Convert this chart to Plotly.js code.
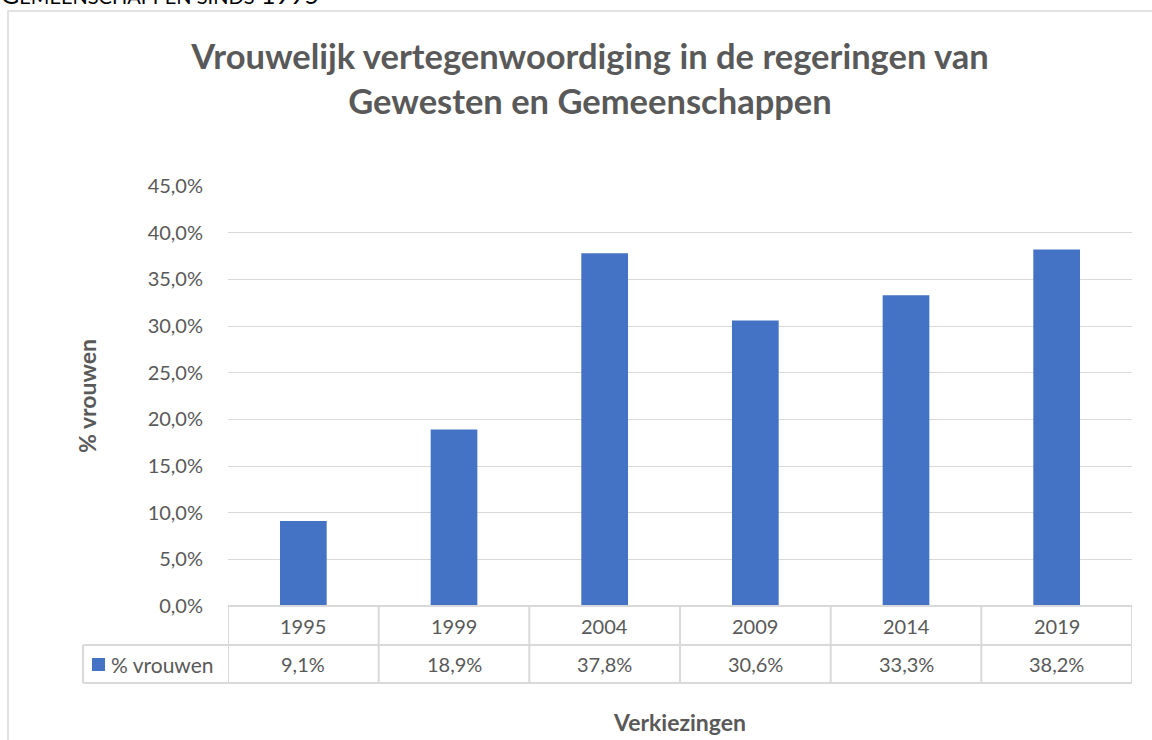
<!DOCTYPE html>
<html>
<head>
<meta charset="utf-8">
<script src="https://cdn.plot.ly/plotly-3.0.1.min.js"></script>
<style>html,body{margin:0;padding:0;background:#fff;}#chart{width:1152px;height:740px;}</style>
</head>
<body>
<div id="chart"></div>
<script>
const years = ["1995", "1999", "2004", "2009", "2014", "2019"];
const vrouwen = [9.1, 18.9, 37.8, 30.6, 33.3, 38.2];
const seriesName = "% vrouwen";
const valueLabels = ["9,1%", "18,9%", "37,8%", "30,6%", "33,3%", "38,2%"];

const W = 1152, H = 740;
const L = 228, R = 20, T = 186, B = 134;
const pw = W - L - R, ph = H - T - B;
const FONT = "Lato, 'Open Sans', sans-serif";
const GRAY = "#595959";
const LINE = "#d9d9d9";
const BLUE = "#4472c4";

const px2x = v => (v - L) / pw;
const py2y = v => (H - B - v) / ph;

const row1 = py2y(645), row2 = py2y(683);
const legL = px2x(83);

const shapes = [];
// chart frame
shapes.push({type: "rect", xref: "paper", yref: "paper", x0: px2x(8), x1: px2x(1190), y0: py2y(780), y1: py2y(11), line: {color: LINE, width: 1.5}, fillcolor: "rgba(0,0,0,0)", layer: "below"});
// table lines
shapes.push({type: "line", xref: "paper", yref: "paper", x0: legL, x1: 1, y0: row1, y1: row1, line: {color: LINE, width: 2}});
shapes.push({type: "line", xref: "paper", yref: "paper", x0: legL, x1: 1, y0: row2, y1: row2, line: {color: LINE, width: 2}});
shapes.push({type: "line", xref: "paper", yref: "paper", x0: 0, x1: 1, y0: 0, y1: 0, line: {color: LINE, width: 2}});
shapes.push({type: "line", xref: "paper", yref: "paper", x0: legL, x1: legL, y0: row1, y1: row2, line: {color: LINE, width: 2}});
for (let k = 0; k <= years.length; k++) {
  shapes.push({type: "line", xref: "x", yref: "paper", x0: k - 0.5, x1: k - 0.5, y0: 0, y1: row2, line: {color: LINE, width: 2}});
}
// legend key
shapes.push({type: "rect", xref: "paper", yref: "paper", x0: px2x(92), x1: px2x(105), y0: py2y(671), y1: py2y(658), line: {width: 0}, fillcolor: BLUE});

const annotations = [];
years.forEach((y, i) => {
  annotations.push({xref: "x", yref: "paper", x: i, y: py2y(626), text: y, showarrow: false, font: {family: FONT, size: 20, color: GRAY}, xanchor: "center", yanchor: "middle"});
  annotations.push({xref: "x", yref: "paper", x: i, y: py2y(664), text: valueLabels[i], showarrow: false, font: {family: FONT, size: 20, color: GRAY}, xanchor: "center", yanchor: "middle"});
});
annotations.push({xref: "paper", yref: "paper", x: px2x(109), y: py2y(664), text: seriesName, showarrow: false, font: {family: FONT, size: 21, color: GRAY}, xanchor: "left", yanchor: "middle"});
// clipped heading above the chart
annotations.push({xref: "paper", yref: "paper", x: px2x(-1), y: py2y(11), text: "G<span style=\"font-size:20px\">EMEENSCHAPPEN SINDS</span> 1995", showarrow: false, font: {family: FONT, size: 25, color: "#000"}, xanchor: "left", yanchor: "bottom"});

const trace = {
  type: "bar",
  x: years,
  y: vrouwen,
  name: seriesName,
  marker: {color: BLUE},
  width: 0.31,
  hoverinfo: "x+y"
};

const layout = {
  width: W, height: H,
  margin: {l: L, r: R, t: T, b: B, pad: 0},
  paper_bgcolor: "#fff", plot_bgcolor: "#fff",
  separators: ",.",
  showlegend: false,
  font: {family: FONT, color: GRAY},
  title: {
    text: "<b>Vrouwelijk vertegenwoordiging in de regeringen van<br>Gewesten en Gemeenschappen</b>",
    font: {family: FONT, size: 34.5, color: GRAY},
    xref: "container", yref: "container", x: 590 / W, xanchor: "center", y: 1 - 69 / H, yanchor: "top"
  },
  xaxis: {
    type: "category",
    range: [-0.5, 5.5],
    showticklabels: false,
    showgrid: false, zeroline: false, showline: false, ticks: "",
    fixedrange: true,
    title: {text: "<b>Verkiezingen</b>", font: {family: FONT, size: 23, color: GRAY}, standoff: 108}
  },
  yaxis: {
    range: [0, 45],
    dtick: 5, tick0: 0,
    tickformat: ".1f", ticksuffix: "%",
    tickfont: {family: FONT, size: 20, color: GRAY},
    ticklabelstandoff: 24,
    showgrid: true, gridcolor: LINE, gridwidth: 1,
    zeroline: false, showline: false, ticks: "",
    fixedrange: true,
    title: {text: "<b>% vrouwen</b>", font: {family: FONT, size: 23, color: GRAY}, standoff: 44}
  },
  shapes: shapes,
  annotations: annotations
};

Plotly.newPlot("chart", [trace], layout, {displayModeBar: false});
</script>
</body>
</html>
